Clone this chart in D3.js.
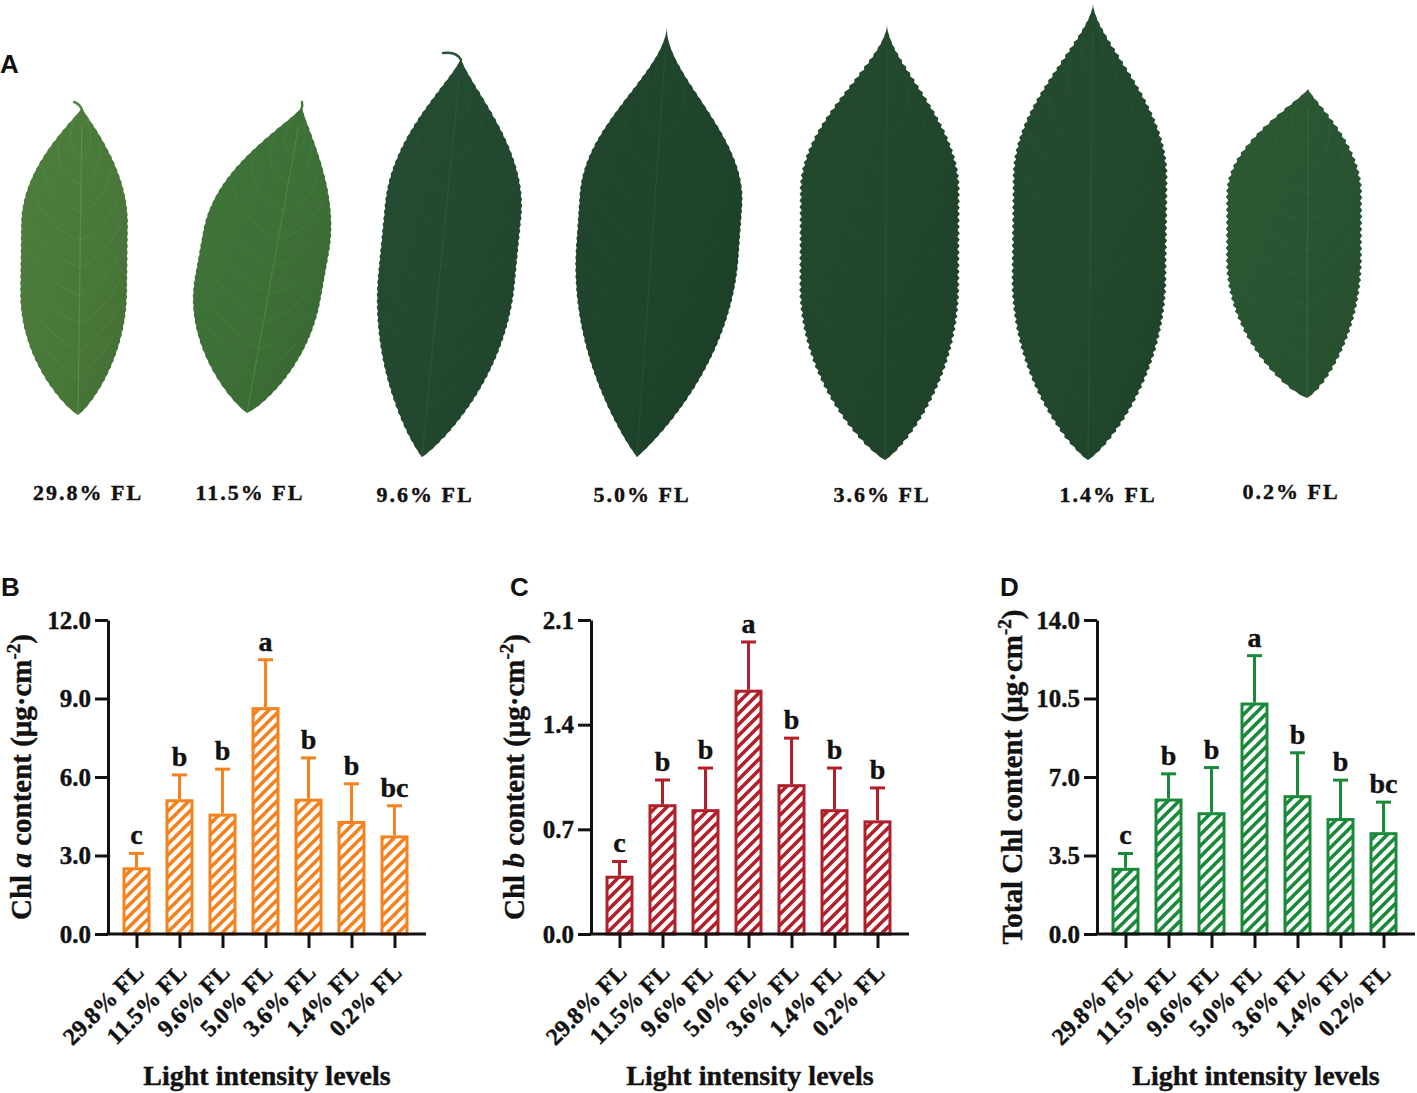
<!DOCTYPE html>
<html><head><meta charset="utf-8">
<script src="https://cdn.jsdelivr.net/npm/d3@7"></script>
<style>body{margin:0;background:#fff}svg{display:block}</style>
</head><body><svg id="c" width="1417" height="1093"></svg>
<script>
// ---------- data ----------
const categories = ["29.8% FL","11.5% FL","9.6% FL","5.0% FL","3.6% FL","1.4% FL","0.2% FL"];
const chlA       = [2.55, 5.15, 4.60, 8.67, 5.17, 4.32, 3.77];
const chlAErr    = [0.53, 0.93, 1.70, 1.81, 1.56, 1.42, 1.13];
const chlALetters= ["c","b","b","a","b","b","bc"];
const chlATicks  = [0, 3, 6, 9, 12];
const chlB       = [0.39, 0.868, 0.835, 1.634, 1.002, 0.835, 0.76];
const chlBErr    = [0.095, 0.162, 0.275, 0.319, 0.308, 0.275, 0.217];
const chlBLetters= ["c","b","b","a","b","b","b"];
const chlBTicks  = [0, 0.7, 1.4, 2.1];
const totalChl   = [2.95, 6.04, 5.43, 10.32, 6.19, 5.17, 4.54];
const totalErr   = [0.64, 1.10, 1.99, 2.09, 1.89, 1.69, 1.34];
const totalLetters=["c","b","b","a","b","b","bc"];
const totalTicks = [0, 3.5, 7, 10.5, 14];
const xTitle = "Light intensity levels";

// ---------- layout / style ----------
const svg = d3.select("#c");
const defs = svg.append("defs");
const serif = "'Liberation Serif','Times New Roman',serif";
const sans = "'Liberation Sans',Arial,sans-serif";

// Panel A: drawn leaves (stand-ins for the photographs)
const leafGeom = [
  {tip:[82,108],  base:[78,415],  wL:59, wR:47, p1:0.40, p2:0.62, kb:0.85, kt:1.1, color:"#4a783a", serr:0.6, lx:88,  ly:500, curl:"M82,110 q-2,-6 -8,-8"},
  {tip:[302,107], base:[247,413], wL:75, wR:52, p1:0.40, p2:0.55, kb:0.85, kt:1.2, color:"#3d6f36", serr:0.6, lx:250, ly:500, curl:"M301,110 q2,-4 1,-8"},
  {tip:[461,58],  base:[422,457], wL:61, wR:75, p1:0.45, p2:0.62, kb:0.9,  kt:1.3, color:"#23482f", serr:0.8, lx:425, ly:502, curl:"M461,60 q-4,-9 -18,-7"},
  {tip:[667,27],  base:[637,457], wL:75, wR:87, p1:0.48, p2:0.60, kb:0.95, kt:1.9, color:"#1f432b", serr:0.7, lx:642, ly:502},
  {tip:[887,25],  base:[885,460], wL:85, wR:72, p1:0.40, p2:0.62, kb:0.85, kt:1.7, color:"#21462c", serr:1.7, lx:882, ly:502},
  {tip:[1093,4],  base:[1088,460],wL:77, wR:75, p1:0.40, p2:0.62, kb:0.85, kt:1.6, color:"#22482d", serr:1.7, lx:1108,ly:502},
  {tip:[1308,89], base:[1307,398],wL:80, wR:53, p1:0.45, p2:0.66, kb:0.8,  kt:1.2, color:"#2a5431", serr:1.7, lx:1291,ly:499}
];

function leafProfile(L){
  return t=>{
    let v;
    if(t<=L.p1){ const a=1-t/L.p1; v=Math.pow(Math.max(0,1-a*a),L.kb); }
    else if(t>=L.p2){ const u=(t-L.p2)/(1-L.p2); v=Math.pow(Math.max(0,1-u*u),L.kt); }
    else v=1;
    return isFinite(v)?v:0;
  };
}
function leafFrame(L){
  const [bx,by]=L.base,[tx,ty]=L.tip;
  const len=Math.hypot(tx-bx,ty-by), dx=(tx-bx)/len, dy=(ty-by)/len;
  return {bx,by,len,dx,dy,nx:-dy,ny:dx};
}
function leafOutline(L){
  const F=leafFrame(L), g=leafProfile(L);
  const N=Math.round(F.len/3.2);
  const right=[],left=[];
  for(let i=0;i<=N;i++){
    const t=i/N, cx=F.bx+F.dx*F.len*t, cy=F.by+F.dy*F.len*t;
    const s=(i%2?1:-0.4)*L.serr*Math.min(1,g(t)*4);
    const wr=L.wR*g(t)+s, wl=L.wL*g(t)+s;
    right.push([cx+F.nx*wr,cy+F.ny*wr]);
    left.push([cx-F.nx*wl,cy-F.ny*wl]);
  }
  return right.concat(left.reverse()).filter(p=>isFinite(p[0])&&isFinite(p[1]));
}
const leafG = svg.append("g");
leafGeom.forEach((L,i)=>{
  const gid="lg"+i;
  const grad=defs.append("linearGradient").attr("id",gid)
    .attr("x1","0").attr("y1","0").attr("x2","1").attr("y2","1");
  grad.append("stop").attr("offset","0").attr("stop-color",d3.color(L.color).brighter(0.15).formatHex());
  grad.append("stop").attr("offset","0.55").attr("stop-color",L.color);
  grad.append("stop").attr("offset","1").attr("stop-color",d3.color(L.color).darker(0.25).formatHex());
  if(L.curl) leafG.append("path").attr("d",L.curl).attr("fill","none")
    .attr("stroke",d3.color(L.color).brighter(0.4).formatHex()).attr("stroke-width",2.5).attr("stroke-linecap","round");
  leafG.append("path").attr("d",d3.line()(leafOutline(L))+"Z").attr("fill",`url(#${gid})`);
  const F=leafFrame(L), g=leafProfile(L);
  const vc=d3.color(L.color).brighter(0.9).formatHex();
  leafG.append("line").attr("x1",F.bx).attr("y1",F.by)
    .attr("x2",F.bx+F.dx*F.len*0.94).attr("y2",F.by+F.dy*F.len*0.94)
    .attr("stroke",vc).attr("stroke-width",1.3).attr("opacity",0.5);
  for(let t=0.12;t<0.85;t+=0.09){
    const cx=F.bx+F.dx*F.len*t, cy=F.by+F.dy*F.len*t, t2=Math.min(t+0.14,0.97);
    [[L.wR,1],[L.wL,-1]].forEach(([W,sgn])=>{
      const ex=F.bx+F.dx*F.len*t2+sgn*F.nx*W*g(t2)*0.85, ey=F.by+F.dy*F.len*t2+sgn*F.ny*W*g(t2)*0.85;
      const mx=F.bx+F.dx*F.len*(t+0.03)+sgn*F.nx*W*g(t)*0.5, my=F.by+F.dy*F.len*(t+0.03)+sgn*F.ny*W*g(t)*0.5;
      leafG.append("path").attr("d",`M${cx},${cy}Q${mx},${my} ${ex},${ey}`)
        .attr("fill","none").attr("stroke",vc).attr("stroke-width",1).attr("opacity",0.28);
    });
  }
  svg.append("text").attr("x",L.lx).attr("y",L.ly).attr("text-anchor","middle")
    .attr("font-family",serif).attr("font-weight","bold").attr("font-size",22)
    .attr("letter-spacing",2).attr("fill","#111").attr("stroke","#111").attr("stroke-width",0.4)
    .text(categories[i]);
});
svg.append("text").attr("x",0).attr("y",73).attr("font-family",sans).attr("font-weight","bold")
  .attr("font-size",26).attr("fill","#111").text("A");

// Panels B-D
const panels = [
  {id:"B", ax:108, vals:chlA, errs:chlAErr, letters:chlALetters, ticks:chlATicks, color:"#f5821f",
   titleX:31, title:[["Chl ",0],["a",1],[" content (μg·cm",0],["-2",2],[")",0]], letterX:1},
  {id:"C", ax:591, vals:chlB, errs:chlBErr, letters:chlBLetters, ticks:chlBTicks, color:"#b0202a",
   titleX:524, title:[["Chl ",0],["b",1],[" content (μg·cm",0],["-2",2],[")",0]], letterX:510},
  {id:"D", ax:1097, vals:totalChl, errs:totalErr, letters:totalLetters, ticks:totalTicks, color:"#1a8a3a",
   titleX:1022, title:[["Total Chl content (μg·cm",0],["-2",2],[")",0]], letterX:1000}
];
const yTop=620, yBot=934, axLen=318, step=43, first=28.5;

panels.forEach(P=>{
  const g=svg.append("g");
  const y=d3.scaleLinear().domain([0,d3.max(P.ticks)]).range([yBot,yTop]);
  const x=d3.scalePoint().domain(categories).range([P.ax+first,P.ax+first+step*(categories.length-1)]);
  // hatch pattern
  const pat=defs.append("pattern").attr("id","h"+P.id).attr("patternUnits","userSpaceOnUse")
    .attr("width",11).attr("height",11);
  pat.append("rect").attr("width",11).attr("height",11).attr("fill","#fff");
  pat.append("path").attr("d","M-2,2L2,-2M0,11L11,0M9,13L13,9").attr("stroke",P.color)
    .attr("stroke-width",3.6);
  // bars
  g.selectAll("rect.bar").data(P.vals).join("rect").attr("class","bar")
    .attr("x",(d,i)=>x(categories[i])-12.5).attr("width",25)
    .attr("y",d=>y(d)+1.5).attr("height",d=>y(0)-y(d)-1.5)
    .attr("fill",`url(#h${P.id})`).attr("stroke",P.color).attr("stroke-width",3);
  // error bars
  g.selectAll("line.err").data(P.vals).join("line").attr("class","err")
    .attr("x1",(d,i)=>x(categories[i])).attr("x2",(d,i)=>x(categories[i]))
    .attr("y1",d=>y(d)).attr("y2",(d,i)=>y(d+P.errs[i]))
    .attr("stroke",P.color).attr("stroke-width",3);
  g.selectAll("line.cap").data(P.vals).join("line").attr("class","cap")
    .attr("x1",(d,i)=>x(categories[i])-7.5).attr("x2",(d,i)=>x(categories[i])+7.5)
    .attr("y1",(d,i)=>y(d+P.errs[i])).attr("y2",(d,i)=>y(d+P.errs[i]))
    .attr("stroke",P.color).attr("stroke-width",3);
  // significance letters
  g.selectAll("text.sig").data(P.letters).join("text").attr("class","sig")
    .attr("x",(d,i)=>x(categories[i])).attr("y",(d,i)=>y(P.vals[i]+P.errs[i])-9)
    .attr("text-anchor","middle").attr("font-family",serif).attr("font-weight","bold")
    .attr("font-size",28).attr("fill","#111").attr("stroke","#111").attr("stroke-width",0.4).text(d=>d);
  // y axis
  const ya=g.append("g").attr("transform",`translate(${P.ax},0)`)
    .call(d3.axisLeft(y).tickValues(P.ticks).tickSize(13).tickSizeOuter(0).tickPadding(4)
      .tickFormat(d3.format(".1f")));
  ya.select(".domain").attr("stroke","#111").attr("stroke-width",3);
  ya.selectAll(".tick line").attr("stroke","#111").attr("stroke-width",3);
  ya.selectAll(".tick text").attr("font-family",serif).attr("font-weight","bold")
    .attr("font-size",25).attr("fill","#111").attr("stroke","#111").attr("stroke-width",0.4);
  // x axis
  const xa=g.append("g").attr("transform",`translate(0,${yBot})`)
    .call(d3.axisBottom(x).tickSize(14).tickSizeOuter(0));
  xa.select(".domain").remove();
  xa.append("line").attr("x1",P.ax-1.5).attr("x2",P.ax+axLen).attr("stroke","#111").attr("stroke-width",3);
  xa.selectAll(".tick line").attr("stroke","#111").attr("stroke-width",3);
  xa.selectAll(".tick text").attr("font-family",serif).attr("font-weight","bold")
    .attr("font-size",24).attr("fill","#111").attr("stroke","#111").attr("stroke-width",0.4)
    .attr("text-anchor","end").attr("dy",0).attr("y",0)
    .attr("transform","translate(8,40) rotate(-45)");
  // axis titles
  const yt=g.append("text").attr("transform",`translate(${P.titleX},777) rotate(-90)`)
    .attr("text-anchor","middle").attr("font-family",serif).attr("font-weight","bold")
    .attr("font-size",29).attr("fill","#111").attr("stroke","#111").attr("stroke-width",0.4);
  P.title.forEach(([t,k])=>{
    const ts=yt.append("tspan").text(t);
    if(k===1) ts.attr("font-style","italic");
    if(k===2) ts.attr("font-size",19).attr("dy",-11);
    if(k===0 && t===")") ts.attr("dy",11);
  });
  g.append("text").attr("x",P.ax+axLen/2).attr("y",1085).attr("text-anchor","middle")
    .attr("font-family",serif).attr("font-weight","bold").attr("font-size",28).attr("fill","#111")
    .attr("stroke","#111").attr("stroke-width",0.4).text(xTitle);
  g.append("text").attr("x",P.letterX).attr("y",596).attr("font-family",sans).attr("font-weight","bold")
    .attr("font-size",26).attr("fill","#111").text(P.id);
});
</script></body></html>
